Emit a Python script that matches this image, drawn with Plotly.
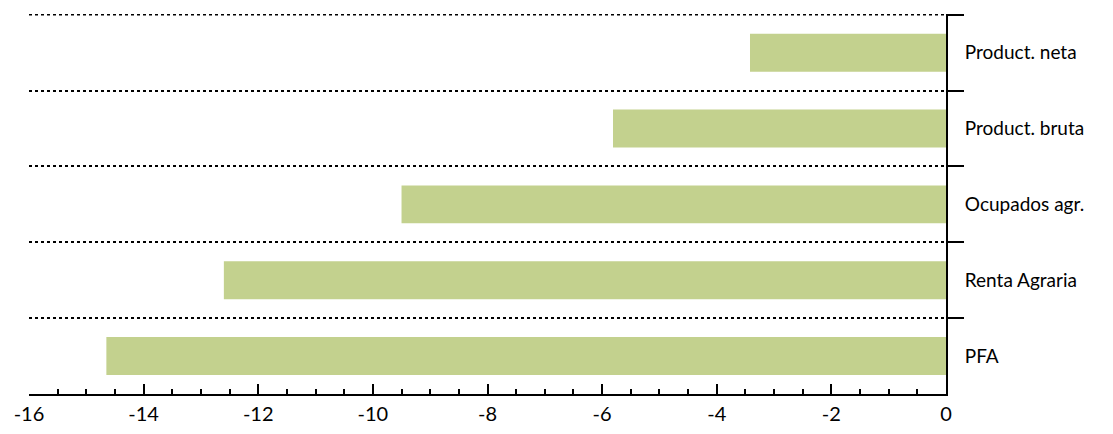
import plotly.graph_objects as go

categories = ["Product. neta", "Product. bruta", "Ocupados agr.", "Renta Agraria", "PFA"]
values = [-3.42, -5.81, -9.5, -12.6, -14.65]
x_tick_vals = [-16, -14, -12, -10, -8, -6, -4, -2, 0]
x_tick_text = ["-16", "-14", "-12", "-10", "-8", "-6", "-4", "-2", "0"]

fig = go.Figure()
fig.add_trace(go.Bar(
    x=values, y=categories, orientation="h",
    marker=dict(color="#c3d18e", line=dict(width=0)),
    showlegend=False,
))

# top boundary dotted line (edge gridline is not drawn by plotly)
fig.add_shape(type="line", xref="x", yref="y", x0=-16, x1=0, y0=-0.5, y1=-0.5,
              line=dict(color="black", width=1.5, dash="dot"), layer="below")

fig.update_layout(
    width=1097, height=418,
    margin=dict(l=21, r=159, t=6, b=32),
    paper_bgcolor="white", plot_bgcolor="white",
    bargap=0.5,
    font=dict(family="Lato, 'Open Sans', sans-serif", color="black"),
    xaxis=dict(
        range=[-16, 0],
        automargin=False,
        tickmode="array", tickvals=x_tick_vals, ticktext=x_tick_text,
        ticks="inside", ticklen=10, tickwidth=2, tickcolor="black",
        minor=dict(dtick=0.5, ticks="inside", ticklen=5, tickwidth=1.5, tickcolor="black"),
        showline=True, linecolor="black", linewidth=2,
        showgrid=False, zeroline=False,
        tickfont=dict(size=20, color="black"),
        ticklabelstandoff=1,
    ),
    yaxis=dict(
        type="category",
        automargin=False,
        categoryorder="array", categoryarray=categories,
        autorange="reversed",
        side="right",
        tickson="boundaries",
        ticks="outside", ticklen=16, tickwidth=1.5, tickcolor="black",
        showline=True, linecolor="black", linewidth=2,
        showgrid=True, gridcolor="black", gridwidth=1.5, griddash="dot",
        tickfont=dict(size=19, color="black"),
        ticklabelstandoff=13,
    ),
)

fig.write_html("out.html")
